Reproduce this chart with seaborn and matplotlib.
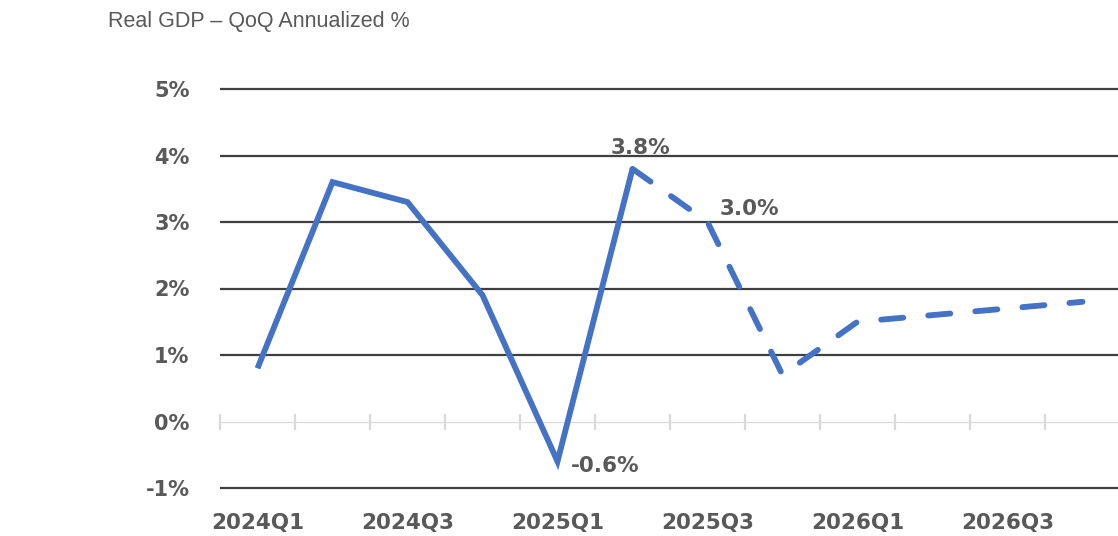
import numpy as np
import seaborn as sns
import matplotlib.pyplot as plt

quarters = ["2024Q1", "2024Q2", "2024Q3", "2024Q4",
            "2025Q1", "2025Q2", "2025Q3", "2025Q4",
            "2026Q1", "2026Q2", "2026Q3", "2026Q4"]
gdp = [0.8, 3.6, 3.3, 1.9, -0.6, 3.8, 3.0, 0.7, 1.5, 1.6, 1.7, 1.8]
n_actual = 6  # 2024Q1..2025Q2 are actual, rest is forecast
y_ticks = [-1, 0, 1, 2, 3, 4, 5]
y_labels = ["-1%", "0%", "1%", "2%", "3%", "4%", "5%"]
callouts = {5: "3.8%", 6: "3.0%", 4: "-0.6%"}

sns.set_style("white")
plt.rcParams["font.family"] = ["DejaVu Sans"]

W, H = 1118, 536
fig = plt.figure(figsize=(W / 100, H / 100), dpi=100)

ymin, ymax = -1.1, 5.1
px_per_unit = 66.5
top_px = 89 - (ymax - 5) * px_per_unit
bot_px = 488 + (-1 - ymin) * px_per_unit
ax = fig.add_axes([220 / W, 1 - bot_px / H, 900 / W, (bot_px - top_px) / H])

x = np.arange(len(quarters))
blue = "#4472C4"
grey = "#595959"

sns.lineplot(x=x[:n_actual], y=gdp[:n_actual], ax=ax, color=blue, lw=4.2,
             solid_joinstyle="miter", solid_capstyle="butt")
sns.lineplot(x=x[n_actual - 1:], y=gdp[n_actual - 1:], ax=ax, color=blue, lw=4.2,
             dashes=(3.8, 4.3), dash_capstyle="round")

ax.set_xlim(-0.5, len(quarters) - 0.5)
ax.set_ylim(ymin, ymax)

# gridlines (dark) except the zero line, which is a light axis with ticks
for v in y_ticks:
    if v != 0:
        ax.axhline(v, color="#3f3f3f", lw=1.6, zorder=0)
ax.axhline(0, color="#d9d9d9", lw=1.6, zorder=0)

zero_frac = (0 - ymin) / (ymax - ymin)
sec = ax.secondary_xaxis(zero_frac)
sec.set_xticks(np.arange(len(quarters) + 1) - 0.5)
sec.tick_params(direction="inout", length=12, width=1.6, color="#d9d9d9",
                labelbottom=False, labeltop=False)
sec.spines["bottom"].set_visible(False)
sec.spines["top"].set_visible(False)

for s in ax.spines.values():
    s.set_visible(False)

ax.set_xticks(x[::2])
ax.set_xticklabels(quarters[::2])
ax.set_yticks(y_ticks)
ax.set_yticklabels(y_labels)
ax.tick_params(axis="x", length=0, pad=13, labelsize=15.5, labelcolor=grey)
ax.tick_params(axis="y", length=0, pad=22, labelsize=15, labelcolor=grey)
for lab in ax.get_xticklabels() + ax.get_yticklabels():
    lab.set_fontweight("bold")

offsets = {5: (8, 21, "center", "center"),
           6: (12, 13, "left", "center"),
           4: (13, -5, "left", "center")}
for i, txt in callouts.items():
    dx, dy, ha, va = offsets[i]
    ax.annotate(txt, (x[i], gdp[i]), xytext=(dx, dy), textcoords="offset pixels",
                ha=ha, va=va, fontsize=15.5, fontweight="bold", color=grey)

fig.text(108 / W, 1 - 21 / H, "Real GDP \u2013 QoQ Annualized %",
         family=["Liberation Sans", "DejaVu Sans"], fontsize=15.5,
         color=grey, ha="left", va="center")

fig.savefig("out.png", dpi=100)
